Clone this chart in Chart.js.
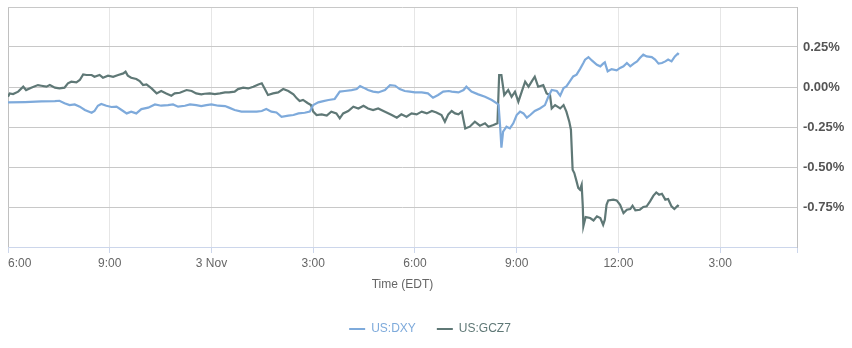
<!DOCTYPE html>
<html>
<head>
<meta charset="utf-8">
<script src="https://cdn.jsdelivr.net/npm/chart.js@4"></script>
<style>
  html, body { margin: 0; padding: 0; background: #fff; }
  #wrap { width: 852px; height: 348px; position: relative; }
</style>
</head>
<body>
<div id="wrap"><canvas id="chart"></canvas></div>
<script>
// minutes after 6:00 pm EDT, 2 Nov
const xTickMinutes = [0, 180, 360, 540, 720, 900, 1080, 1260];
const xTickLabels = ['6:00', '9:00', '3 Nov', '3:00', '6:00', '9:00', '12:00', '3:00'];
const xMax = 1396;
const yTicks = [-1, -0.75, -0.5, -0.25, 0, 0.25, 0.5];

const seriesNames = ['US:DXY', 'US:GCZ7'];
const seriesColors = ['#7eaadb', '#5f7876'];

const dxyMinutes = [
  0, 30, 59, 83, 91, 100, 109, 118, 127, 136,
  148, 153, 159, 165, 174, 183, 192, 201, 210, 218,
  227, 236, 248, 260, 271, 283, 292, 301, 313, 322,
  333, 342, 351, 360, 372, 384, 391, 401, 413, 428,
  440, 449, 457, 466, 475, 484, 496, 505, 514, 525,
  534, 540, 549, 558, 567, 578, 587, 596, 608, 617,
  623, 629, 637, 646, 655, 667, 676, 685, 693, 702,
  711, 720, 732, 743, 752, 761, 770, 780, 785, 797,
  806, 811, 820, 832, 844, 856, 865, 868, 871, 873,
  876, 882, 888, 894, 900, 906, 912, 918, 924, 932,
  941, 950, 956, 962, 971, 977, 983, 988, 994, 1000,
  1006, 1012, 1018, 1021, 1027, 1033, 1042, 1048, 1053, 1056,
  1061, 1068, 1077, 1083, 1089, 1095, 1101, 1107, 1113, 1118,
  1124, 1130, 1139, 1145, 1151, 1157, 1163, 1168, 1174, 1180,
  1185, 1187
];
const dxyValues = [
  -0.096, -0.094, -0.090, -0.088, -0.086, -0.102, -0.113, -0.109, -0.123, -0.144,
  -0.161, -0.150, -0.117, -0.106, -0.117, -0.125, -0.123, -0.144, -0.165, -0.154,
  -0.165, -0.138, -0.129, -0.109, -0.117, -0.113, -0.109, -0.123, -0.117, -0.109,
  -0.113, -0.119, -0.113, -0.109, -0.117, -0.119, -0.129, -0.144, -0.154, -0.154,
  -0.154, -0.150, -0.138, -0.154, -0.159, -0.186, -0.179, -0.175, -0.165, -0.161,
  -0.154, -0.113, -0.096, -0.088, -0.081, -0.075, -0.029, -0.025, -0.019, -0.013,
  0.006, -0.004, -0.019, -0.029, -0.034, -0.019, 0.012, 0.008, -0.013, -0.025,
  -0.029, -0.034, -0.034, -0.040, -0.067, -0.050, -0.029, -0.025, -0.029, -0.034,
  -0.019, 0.002, -0.029, -0.046, -0.061, -0.081, -0.102, -0.113, -0.259, -0.379,
  -0.279, -0.248, -0.259, -0.227, -0.175, -0.154, -0.165, -0.192, -0.175, -0.150,
  -0.134, -0.113, -0.061, -0.019, -0.025, -0.054, -0.006, 0.004, 0.035, 0.066,
  0.077, 0.112, 0.150, 0.171, 0.187, 0.166, 0.139, 0.129, 0.146, 0.154,
  0.098, 0.112, 0.104, 0.119, 0.129, 0.150, 0.129, 0.146, 0.160, 0.181,
  0.202, 0.191, 0.187, 0.171, 0.146, 0.150, 0.160, 0.171, 0.160, 0.191,
  0.208, 0.202
];

const gczMinutes = [
  0, 3, 9, 18, 27, 32, 41, 53, 59, 68,
  74, 83, 91, 100, 106, 112, 121, 127, 133, 139,
  148, 153, 162, 168, 177, 186, 195, 204, 208, 212,
  218, 227, 233, 239, 245, 254, 263, 271, 280, 289,
  295, 304, 316, 325, 333, 342, 348, 357, 366, 375,
  384, 391, 401, 407, 416, 425, 434, 443, 449, 454,
  460, 469, 478, 487, 496, 505, 511, 516, 522, 530,
  536, 540, 546, 555, 564, 572, 581, 587, 593, 602,
  611, 620, 629, 637, 646, 655, 667, 679, 688, 696,
  705, 714, 723, 732, 741, 750, 758, 767, 773, 779,
  785, 791, 797, 803, 809, 817, 826, 835, 844, 850,
  859, 866, 869, 873, 878, 885, 891, 897, 903, 909,
  915, 921, 927, 932, 938, 947, 953, 959, 962, 968,
  977, 983, 988, 993, 996, 999, 1002, 1006, 1009, 1012,
  1015, 1017, 1018, 1022, 1030, 1036, 1042, 1048, 1053, 1056,
  1059, 1062, 1071, 1077, 1083, 1089, 1095, 1101, 1105, 1110,
  1118, 1124, 1130, 1136, 1142, 1147, 1152, 1157, 1163, 1168,
  1174, 1179, 1185, 1187
];
const gczValues = [
  -0.061, -0.040, -0.044, -0.029, 0.002, -0.019, -0.004, 0.012, 0.008, 0.002,
  0.012, -0.004, -0.009, -0.004, 0.023, 0.033, 0.029, 0.044, 0.079, 0.075,
  0.075, 0.064, 0.075, 0.058, 0.071, 0.064, 0.075, 0.085, 0.096, 0.071,
  0.058, 0.050, 0.037, 0.012, 0.016, -0.009, -0.040, -0.025, -0.040, -0.054,
  -0.040, -0.036, -0.019, -0.025, -0.040, -0.046, -0.042, -0.040, -0.044, -0.040,
  -0.034, -0.034, -0.029, -0.013, -0.004, -0.009, 0.002, 0.016, 0.023, -0.009,
  -0.050, -0.040, -0.034, -0.013, -0.025, -0.046, -0.071, -0.088, -0.081, -0.100,
  -0.113, -0.154, -0.175, -0.171, -0.179, -0.154, -0.165, -0.196, -0.165, -0.150,
  -0.123, -0.134, -0.117, -0.134, -0.144, -0.134, -0.154, -0.175, -0.192, -0.171,
  -0.186, -0.165, -0.171, -0.154, -0.165, -0.150, -0.159, -0.175, -0.217, -0.171,
  -0.150, -0.165, -0.171, -0.154, -0.259, -0.248, -0.217, -0.242, -0.227, -0.248,
  -0.238, -0.227, 0.075, 0.075, -0.050, -0.019, -0.061, -0.029, -0.092, -0.029,
  0.033, 0.002, 0.037, 0.064, 0.002, 0.012, -0.040, -0.050, -0.134, -0.113,
  -0.134, -0.113, -0.154, -0.215, -0.267, -0.517, -0.538, -0.590, -0.631, -0.642,
  -0.611, -0.746, -0.871, -0.813, -0.819, -0.834, -0.808, -0.819, -0.861, -0.829,
  -0.736, -0.709, -0.704, -0.709, -0.736, -0.788, -0.767, -0.763, -0.742, -0.771,
  -0.767, -0.750, -0.746, -0.715, -0.679, -0.659, -0.673, -0.667, -0.704, -0.700,
  -0.746, -0.763, -0.742, -0.746
];

const toPoints = (xs, ys) => xs.map((x, i) => ({ x: x, y: ys[i] }));

const labelFont = { family: "'Liberation Sans', Arial, sans-serif", size: 12 };

new Chart(document.getElementById('chart'), {
  type: 'line',
  data: {
    datasets: [
      { label: seriesNames[0], data: toPoints(dxyMinutes, dxyValues), borderColor: seriesColors[0], backgroundColor: seriesColors[0], borderWidth: 2.2, pointRadius: 0, tension: 0 },
      { label: seriesNames[1], data: toPoints(gczMinutes, gczValues), borderColor: seriesColors[1], backgroundColor: seriesColors[1], borderWidth: 2.2, pointRadius: 0, tension: 0 }
    ]
  },
  options: {
    responsive: true,
    maintainAspectRatio: false,
    animation: false,
    layout: { padding: { left: 8, top: 7, right: 0, bottom: 3 } },
    plugins: {
      tooltip: { enabled: false },
      legend: {
        position: 'bottom',
        labels: {
          boxWidth: 16,
          boxHeight: 2,
          padding: 21,
          font: labelFont,
          generateLabels: (chart) => chart.data.datasets.map((ds, i) => ({
            text: ds.label,
            fillStyle: ds.borderColor,
            strokeStyle: ds.borderColor,
            lineWidth: 0,
            fontColor: ds.borderColor,
            datasetIndex: i
          }))
        }
      }
    },
    scales: {
      x: {
        type: 'linear',
        min: 0,
        max: xMax,
        afterBuildTicks: (scale) => {
          scale.ticks = xTickMinutes.map(v => ({ value: v })).concat([{ value: xMax }]);
        },
        afterFit: (scale) => { scale.height = 55; },
        ticks: {
          align: 'inner',
          maxRotation: 0,
          autoSkip: false,
          padding: 3,
          color: '#666',
          font: labelFont,
          callback: (v) => {
            const i = xTickMinutes.indexOf(v);
            return i >= 0 ? xTickLabels[i] : '';
          }
        },
        grid: {
          color: (ctx) => (ctx.tick && (ctx.tick.value === 0 || ctx.tick.value === xMax)) ? '#c0c0c0' : '#e6e6e6',
          tickColor: '#ccd6eb',
          tickLength: 6
        },
        border: { color: '#ccd6eb' },
        title: {
          display: true,
          text: 'Time (EDT)',
          color: '#666',
          font: labelFont,
          padding: { top: 0, bottom: 10 }
        }
      },
      y: {
        position: 'right',
        min: -1,
        max: 0.5,
        afterBuildTicks: (scale) => { scale.ticks = yTicks.map(v => ({ value: v })); },
        afterFit: (scale) => {
          scale.width = 55;
          scale.paddingTop = 0;
          scale.paddingBottom = 0;
        },
        ticks: {
          padding: 6,
          color: '#555',
          font: { family: "'Liberation Sans', Arial, sans-serif", size: 13, weight: 'bold' },
          callback: (v) => (v === yTicks[0] || v === yTicks[yTicks.length - 1]) ? '' : v.toFixed(2) + '%'
        },
        grid: { color: '#c8c8c8', drawTicks: false },
        border: { color: '#c0c0c0' }
      }
    }
  }
});
</script>
</body>
</html>
